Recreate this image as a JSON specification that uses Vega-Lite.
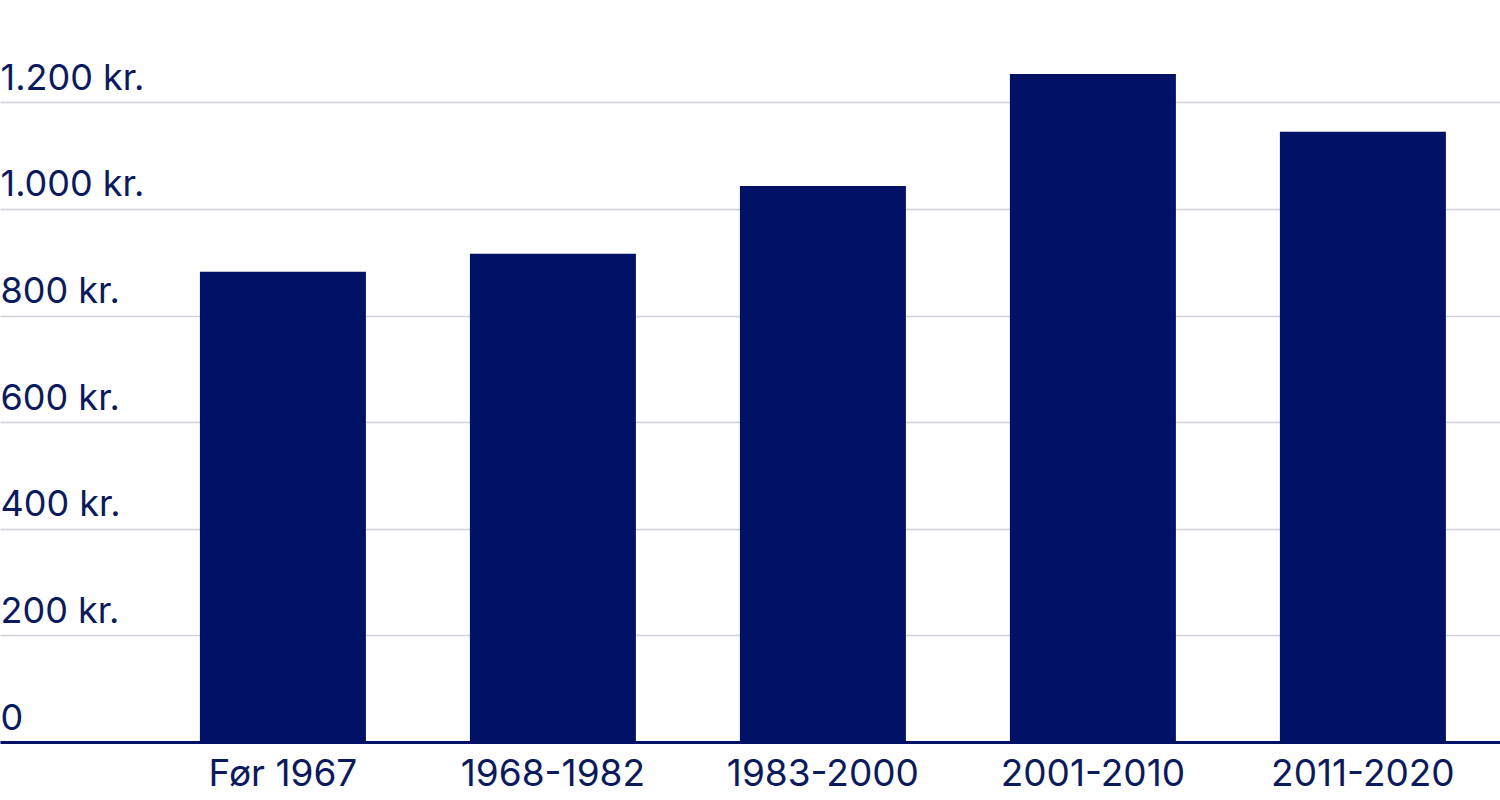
{
  "$schema": "https://vega.github.io/schema/vega-lite/v6.json",
  "width": 1500,
  "height": 742,
  "padding": 0,
  "background": "white",
  "config": {
    "view": {"stroke": null},
    "font": "Inter"
  },
  "data": {
    "values": [
      {"periode": "Før 1967", "pris": 882},
      {"periode": "1968-1982", "pris": 916},
      {"periode": "1983-2000", "pris": 1043},
      {"periode": "2001-2010", "pris": 1253},
      {"periode": "2011-2020", "pris": 1145}
    ]
  },
  "mark": {"type": "bar", "color": "#011166"},
  "encoding": {
    "x": {
      "field": "periode",
      "type": "nominal",
      "sort": null,
      "scale": {"paddingInner": 0.3852, "paddingOuter": 0.4704, "align": 0.787},
      "axis": {
        "title": null,
        "labelAngle": 0,
        "ticks": false,
        "tickSize": 0,
        "domainColor": "#011166",
        "domainWidth": 3,
        "labelFont": "Inter",
        "labelFontSize": 37,
        "labelLimit": 400,
        "labelColor": "#0b1a5c",
        "labelBaseline": "alphabetic",
        "labelPadding": 43
      }
    },
    "y": {
      "field": "pris",
      "type": "quantitative",
      "scale": {"domain": [0, 1392], "nice": false},
      "axis": {
        "title": null,
        "values": [0, 200, 400, 600, 800, 1000, 1200],
        "domain": false,
        "ticks": false,
        "tickSize": 0,
        "gridColor": "#cfd0d8",
        "gridWidth": 1.5,
        "labelAlign": "left",
        "labelBaseline": "alphabetic",
        "labelOffset": -13,
        "labelPadding": 0,
        "labelLimit": 400,
        "labelFont": "Inter",
        "labelFontSize": 36,
        "labelColor": "#0b1a5c",
        "labelExpr": "datum.value == 0 ? '0' : replace(format(datum.value, ','), ',', '.') + ' kr.'"
      }
    }
  }
}
